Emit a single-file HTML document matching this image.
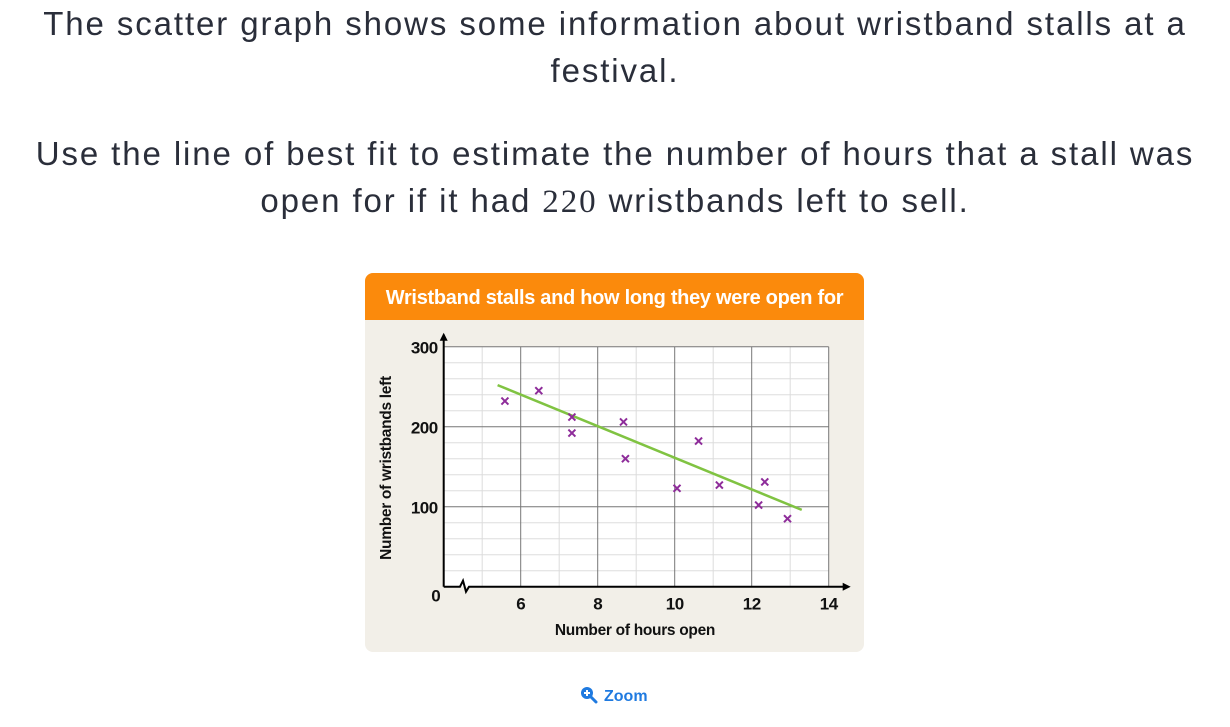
<!DOCTYPE html>
<html><head><meta charset="utf-8"><style>
body{margin:0;width:1230px;height:727px;background:#fff;font-family:"Liberation Sans",sans-serif;color:#2a2e3a;position:relative;overflow:hidden}
.q{position:absolute;left:0;width:1230px;text-align:center;font-size:33px;letter-spacing:1.9px;line-height:47px;white-space:nowrap}
#panel{position:absolute;left:365px;top:273px;width:499px;height:379px;background:#f2efe8;border-radius:8px;overflow:hidden}
#hdr{position:absolute;left:0;top:0;width:499px;height:47px;background:#fb8a0c;color:#fff;font-weight:bold;font-size:20px;letter-spacing:-0.3px;line-height:50px;text-align:center;white-space:nowrap}
svg text{font-family:"Liberation Sans",sans-serif;font-weight:bold;fill:#111}
#zoom{position:absolute;left:580px;top:686px;color:#1f7ae0;font-weight:bold;font-size:16px}
</style></head><body>
<div class="q" style="top:0">The scatter graph shows some information about wristband stalls at a<br>festival.</div>
<div class="q" style="top:130px">Use the line of best fit to estimate the number of hours that a stall was<br>open for if it had <span style="font-family:'Liberation Serif',serif">220</span> wristbands left to sell.</div>
<div id="panel">
<div id="hdr">Wristband stalls and how long they were open for</div>
</div>
<svg id="chart" width="1230" height="727" style="position:absolute;left:0;top:0"></svg>
<div id="zoom"><svg width="18" height="18" style="vertical-align:-3px;margin-right:6px"><circle cx="7" cy="7" r="6" fill="#1f7ae0"/><path d="M4 7h6M7 4v6" stroke="#fff" stroke-width="2"/><path d="M11 11l5 5" stroke="#1f7ae0" stroke-width="3" stroke-linecap="round"/></svg>Zoom</div>
<script>
const xs=[5.59,6.47,7.33,7.33,8.67,8.72,10.06,10.62,11.16,12.34,12.18,12.93];
const ys=[232,245,212,192,206,160,123,182,127,131,102,85];
const fitX=[5.4,13.3];
const fitY=[252,96];
const xTicks=[6,8,10,12,14];
const yTicks=[100,200,300];
const X=v=>443.7+(v-4)*38.5, Y=v=>586.7-v*0.8;
const s=document.getElementById('chart'),NS='http://www.w3.org/2000/svg';
function el(t,a,p){const e=document.createElementNS(NS,t);for(const k in a)e.setAttribute(k,a[k]);(p||s).appendChild(e);return e;}
const g=el('g',{});


el('rect',{x:X(4),y:Y(300),width:X(14)-X(4),height:Y(0)-Y(300),fill:'#fff'},g);
for(let v=20;v<=300;v+=20){if(v%100)el('line',{x1:X(4),x2:X(14),y1:Y(v),y2:Y(v),stroke:'#ddd','stroke-width':1},g);}
for(let h=5;h<=14;h++){el('line',{x1:X(h),x2:X(h),y1:Y(0),y2:Y(300),stroke:h%2?'#ddd':'#777','stroke-width':1},g);}
for(const v of yTicks){el('line',{x1:X(4),x2:X(14),y1:Y(v),y2:Y(v),stroke:'#777','stroke-width':1},g);
const t=el('text',{x:X(4)-6,y:Y(v)+7,'text-anchor':'end','font-size':17,'letter-spacing':-0.5});t.textContent=v;

}
for(const v of xTicks){const t=el('text',{x:X(v),y:Y(0)+23,'text-anchor':'middle','font-size':17,'letter-spacing':-0.5});t.textContent=v;

}
const z=el('text',{x:436,y:Y(0)+15,'text-anchor':'middle','font-size':17});z.textContent='0';
el('path',{d:`M${X(4)} ${Y(0)} V${Y(300)-12}`,stroke:'#000','stroke-width':2,fill:'none'});
el('path',{d:`M${X(4)-4} ${Y(300)-6} L${X(4)} ${Y(300)-14} L${X(4)+4} ${Y(300)-6}Z`,fill:'#000'});
el('path',{d:`M${X(4)} ${Y(0)} H460 L463 ${Y(0)-6} L466 ${Y(0)+5} L469 ${Y(0)} H${X(14)+18}`,stroke:'#000','stroke-width':2,fill:'none'});
el('path',{d:`M${X(14)+14} ${Y(0)-4} L${X(14)+22} ${Y(0)} L${X(14)+14} ${Y(0)+4}Z`,fill:'#000'});
const xl=el('text',{x:635,y:635,'text-anchor':'middle','font-size':15.5,'letter-spacing':-0.3});xl.textContent='Number of hours open';


const yl=el('text',{x:0,y:0,'text-anchor':'middle','font-size':15.5,'letter-spacing':-0.3,transform:'translate(391,468) rotate(-90)'});yl.textContent='Number of wristbands left';


const ln=el('line',{x1:X(fitX[0]),y1:Y(fitY[0]),x2:X(fitX[1]),y2:Y(fitY[1]),stroke:'#80c342','stroke-width':2.5});


xs.forEach((x,i)=>{const cx=X(x),cy=Y(ys[i]);
const p=el('path',{d:`M${cx-3.5} ${cy-3.5}L${cx+3.5} ${cy+3.5}M${cx+3.5} ${cy-3.5}L${cx-3.5} ${cy+3.5}`,stroke:'#8e2c9a','stroke-width':2});

});
</script>
</body></html>
